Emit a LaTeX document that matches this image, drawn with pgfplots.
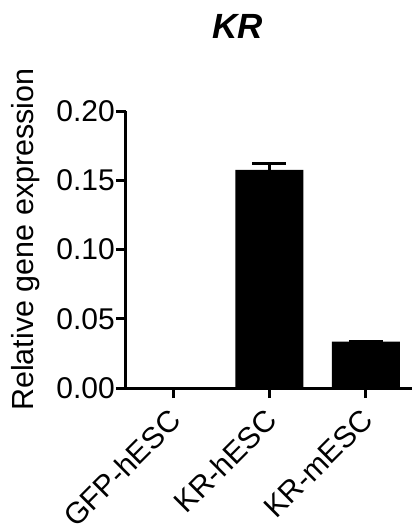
\documentclass[border=0pt]{standalone}
\usepackage{fontspec}
\setmainfont{Liberation Sans}
\usepackage{pgfplots}
\pgfplotsset{compat=1.18}

\begin{document}
\begin{tikzpicture}[x=1pt,y=1pt]
% page frame, 412 x 528, origin at the axis corner
\useasboundingbox (-126,-140) rectangle (286,388);
\begin{axis}[
  at={(0,0)}, anchor=south west,
  scale only axis,
  width=286pt, height=277pt,
  ymin=0, ymax=0.2,
  xmin=-0.49, xmax=2.48,
  axis x line*=bottom, axis y line*=left,
  axis line style={line width=3pt, -},
  every tick/.style={line width=3pt, black},
  major tick length=10pt,
  tick align=outside,
  ytick={0,0.05,0.1,0.15,0.2},
  yticklabel style={/pgf/number format/fixed, /pgf/number format/fixed zerofill, /pgf/number format/precision=2},
  /pgf/number format/assume math mode=true,
  xtick={0,1,2},
  xticklabels={GFP-hESC, KR-hESC, KR-mESC},
  x tick label style={font=\fontsize{30}{30}\selectfont, anchor=north east, inner sep=0pt, xshift=-6pt, yshift=-9pt, rotate=45},
  y tick label style={font=\fontsize{30}{30}\selectfont, inner sep=1pt},
  ylabel={Relative gene expression},
  ylabel style={font=\fontsize{30.5}{30.5}\selectfont, at={(axis description cs:-0.35,0.536)}, anchor=center},
  clip=false,
]
\addplot[ybar, bar width=68pt, fill=black, draw=none,
  error bars/.cd, y dir=plus, y explicit,
  error bar style={line width=3pt}, error mark options={rotate=90, mark size=17pt, line width=3pt}]
  coordinates {(0,0) (1,0.1575) +- (0,0.0045) (2,0.0335) +- (0,0)};
\end{axis}
\node[font=\fontsize{35}{35}\selectfont\bfseries\itshape] at (112,362) {KR};
\end{tikzpicture}
\end{document}
